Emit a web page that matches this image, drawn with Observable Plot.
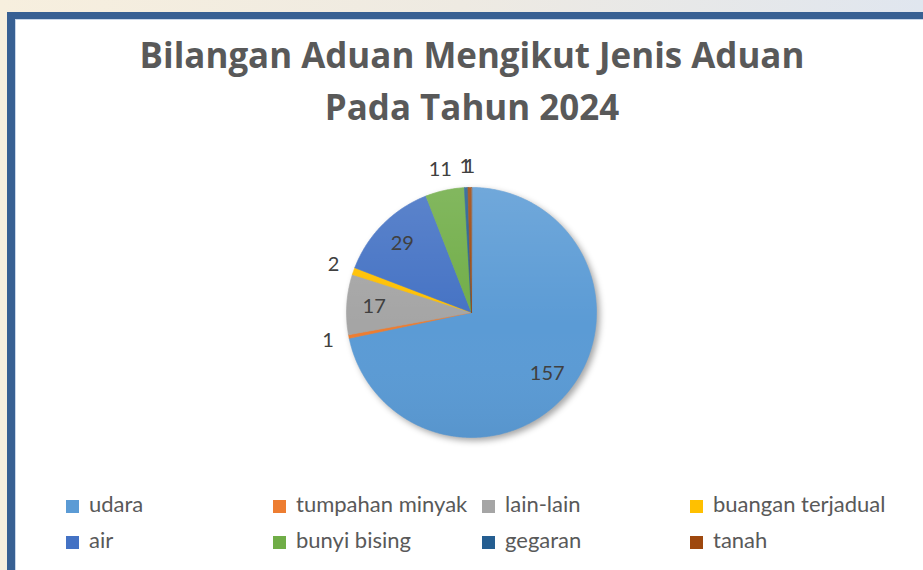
<!DOCTYPE html>
<html><head><meta charset="utf-8">
<script src="https://cdn.jsdelivr.net/npm/d3@7"></script>
<script src="https://cdn.jsdelivr.net/npm/@observablehq/plot@0.6"></script>
<style>
html,body{margin:0;padding:0;width:923px;height:570px;overflow:hidden;}
body{background:linear-gradient(90deg,#f7efde 0%,#eeeae2 50%,#e0e6ef 100%);position:relative;font-family:Lato,sans-serif;}
#frame{position:absolute;left:7px;top:12px;width:1000px;height:600px;background:#fff;border-left:8px solid #386093;border-top:7px solid #386093;box-shadow:inset 1px 1px 0 #c9d7ea;}
.title{position:absolute;left:0;width:944px;text-align:center;font-family:"Open Sans",sans-serif;font-weight:bold;color:#595959;white-space:nowrap;}
#chart{position:absolute;left:0;top:140px;}
.lg{position:absolute;font:22px/22px Lato,sans-serif;color:#595959;white-space:nowrap;}
.sw{position:absolute;width:13px;height:13px;}
</style></head><body>
<div id="frame"></div>
<div id="titles"></div>
<div id="chart"></div>
<div id="legend"></div>
<script>
const titleLines = ["Bilangan Aduan Mengikut Jenis Aduan", "Pada Tahun 2024"];
const categories = ["udara", "tumpahan minyak", "lain-lain", "buangan terjadual", "air", "bunyi bising", "gegaran", "tanah"];
const values = [157, 1, 17, 2, 29, 11, 1, 1];
const colors = ["#5b9bd5", "#ed7d31", "#a5a5a5", "#ffc000", "#4472c4", "#70ad47", "#255e91", "#9e480e"];

// titles: fit first line to the reference width
const titleBase = [69, 121];
const targetW = 665;
const cv = document.createElement("canvas").getContext("2d");
cv.font = 'bold 100px "Open Sans"';
let fs = 100 * targetW / cv.measureText(titleLines[0]).width;
fs = Math.max(26, Math.min(38, fs));
titleLines.forEach((t, i) => {
  const d = document.createElement("div");
  d.className = "title";
  d.style.fontSize = fs + "px";
  d.style.lineHeight = fs + "px";
  d.style.top = (titleBase[i] - 0.888 * fs) + "px";
  d.textContent = t;
  document.getElementById("titles").appendChild(d);
});

// pie geometry from data
const W = 923, H = 330, R = 125, cx = 471, cy = 172;
const arcs = d3.pie().sort(null).value(d => d.value)(categories.map((name, i) => ({name, value: values[i]})));
const slicePts = [];
arcs.forEach(a => {
  const name = a.data.name;
  slicePts.push({name, x: 0, y: 0});
  const n = Math.max(2, Math.ceil((a.endAngle - a.startAngle) / (Math.PI / 360)));
  for (let i = 0; i <= n; i++) {
    const t = a.startAngle + (a.endAngle - a.startAngle) * i / n;
    slicePts.push({name, x: Math.sin(t), y: Math.cos(t)});
  }
});
const labels = arcs.map(a => {
  const m = (a.startAngle + a.endAngle) / 2;
  const k = a.data.value >= 15 ? 0.78 : 1.17;
  return {name: a.data.name, value: a.data.value, x: k * Math.sin(m), y: k * Math.cos(m)};
});

const chart = Plot.plot({
  width: W, height: H, margin: 0,
  style: {background: "transparent", overflow: "visible"},
  x: {domain: [-cx / R, (W - cx) / R], axis: null},
  y: {domain: [-(H - cy) / R, cy / R], axis: null},
  color: {domain: categories, range: colors},
  marks: [
    Plot.line(slicePts, {x: "x", y: "y", z: "name", fill: "name", stroke: "name", strokeWidth: 0.6, curve: "linear-closed"}),
    Plot.line(slicePts, {x: "x", y: "y", z: "name", fill: "url(#sheen)", stroke: "none", curve: "linear-closed"}),
    Plot.text(labels, {x: "x", y: "y", text: d => String(d.value), fill: "#404040", fontSize: 20, fontFamily: "Lato, sans-serif", textAnchor: "middle"})
  ]
});
document.getElementById("chart").appendChild(chart);

// gradient sheen + shadow
const ns = "http://www.w3.org/2000/svg";
const defs = document.createElementNS(ns, "defs");
defs.innerHTML = `<linearGradient id="sheen" gradientUnits="userSpaceOnUse" x1="0" y1="${cy - R}" x2="0" y2="${cy + R}">
<stop offset="0" stop-color="#fff" stop-opacity="0.13"/><stop offset="0.55" stop-color="#fff" stop-opacity="0"/><stop offset="1" stop-color="#000" stop-opacity="0.04"/></linearGradient>`;
chart.insertBefore(defs, chart.firstChild);
const lineGroups = chart.querySelectorAll('g[aria-label="line"]');
if (lineGroups[0]) lineGroups[0].style.filter = "drop-shadow(3px 3px 3px rgba(0,0,0,0.35))";

// legend
const colX = [66, 273, 482, 690];
const rowBase = [513, 549];
const lg = document.getElementById("legend");
categories.forEach((c, i) => {
  const col = i % 4, row = Math.floor(i / 4);
  const sw = document.createElement("div");
  sw.className = "sw";
  sw.style.left = colX[col] + "px";
  sw.style.top = (rowBase[row] - 13) + "px";
  sw.style.background = colors[i];
  lg.appendChild(sw);
  const t = document.createElement("div");
  t.className = "lg";
  t.style.left = (colX[col] + 23) + "px";
  t.style.top = (rowBase[row] - 19.7) + "px";
  t.textContent = c;
  lg.appendChild(t);
});
</script>
</body></html>
